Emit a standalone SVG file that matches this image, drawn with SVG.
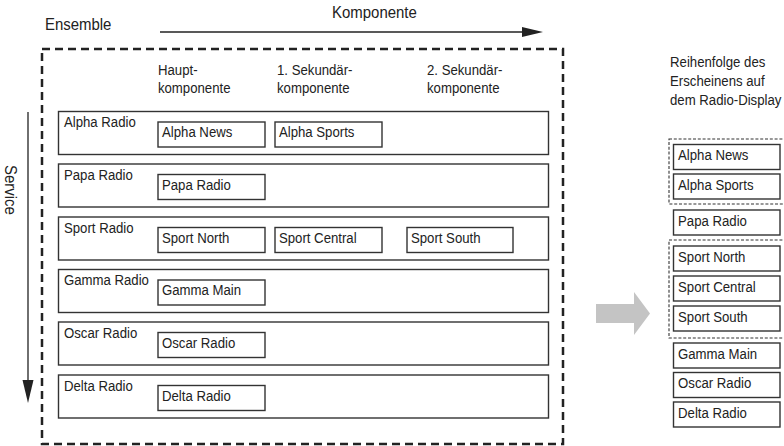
<svg xmlns="http://www.w3.org/2000/svg" width="784" height="446" viewBox="0 0 784 446">
<style>
text { font-family: "Liberation Sans", Arial, sans-serif; fill: #222; }
.big { font-size: 17px; }
.sm { font-size: 15px; }
.row { fill: #fff; stroke: #333; stroke-width: 1.4; }
.box { fill: #fff; stroke: #333; stroke-width: 1.4; }
.ens { fill: none; stroke: #222; stroke-width: 2.5; stroke-dasharray: 8 5; }
.grp { fill: none; stroke: #333; stroke-width: 1.1; stroke-dasharray: 3 1.8; }
.ax { stroke: #222; stroke-width: 1.3; fill: none; }
.head { fill: #222; }
</style>
<rect width="784" height="446" fill="#fff"/>

<g id="ensemble">
  <rect class="ens" x="42" y="49" width="521" height="395"/>
  <text class="big" transform="scale(0.88,1)" x="51.1" y="30">Ensemble</text>
</g>

<g id="axes">
  <text class="big" transform="scale(0.88,1)" x="377.3" y="18">Komponente</text>
  <line class="ax" x1="160" y1="32" x2="524" y2="32"/>
  <polygon class="head" points="522,27 543,32 522,37"/>
  <text class="big" transform="translate(5,165) rotate(90) scale(0.88,1)">Service</text>
  <line class="ax" x1="28" y1="112" x2="28" y2="382"/>
  <polygon class="head" points="22.5,380 33.5,380 28,403"/>
</g>

<g id="headers">
  <text class="sm" transform="scale(0.88,1)" x="179.5" y="75">Haupt-</text>
  <text class="sm" transform="scale(0.88,1)" x="179.5" y="93">komponente</text>
  <text class="sm" transform="scale(0.88,1)" x="314.8" y="75">1. Sekundär-</text>
  <text class="sm" transform="scale(0.88,1)" x="314.8" y="93">komponente</text>
  <text class="sm" transform="scale(0.88,1)" x="485.2" y="75">2. Sekundär-</text>
  <text class="sm" transform="scale(0.88,1)" x="485.2" y="93">komponente</text>
</g>

<g id="service-alpha">
  <rect class="row" x="58.5" y="111.5" width="490" height="43"/>
  <text class="sm" transform="scale(0.88,1)" x="72.7" y="127.5">Alpha Radio</text>
  <rect class="box" x="158" y="122" width="107" height="25"/>
  <text class="sm" transform="scale(0.88,1)" x="184.1" y="137.5">Alpha News</text>
  <rect class="box" x="275" y="122" width="107" height="25"/>
  <text class="sm" transform="scale(0.88,1)" x="317" y="137.5">Alpha Sports</text>
</g>

<g id="service-papa">
  <rect class="row" x="58.5" y="164" width="490" height="43"/>
  <text class="sm" transform="scale(0.88,1)" x="72.7" y="180">Papa Radio</text>
  <rect class="box" x="158" y="174.5" width="107" height="25"/>
  <text class="sm" transform="scale(0.88,1)" x="184.1" y="190">Papa Radio</text>
</g>

<g id="service-sport">
  <rect class="row" x="58.5" y="217" width="490" height="43"/>
  <text class="sm" transform="scale(0.88,1)" x="72.7" y="233">Sport Radio</text>
  <rect class="box" x="158" y="227.5" width="107" height="25"/>
  <text class="sm" transform="scale(0.88,1)" x="184.1" y="243">Sport North</text>
  <rect class="box" x="275" y="227.5" width="107" height="25"/>
  <text class="sm" transform="scale(0.88,1)" x="317" y="243">Sport Central</text>
  <rect class="box" x="407" y="227.5" width="106" height="25"/>
  <text class="sm" transform="scale(0.88,1)" x="467" y="243">Sport South</text>
</g>

<g id="service-gamma">
  <rect class="row" x="58.5" y="269.5" width="490" height="43"/>
  <text class="sm" transform="scale(0.88,1)" x="72.7" y="285.5">Gamma Radio</text>
  <rect class="box" x="158" y="280" width="107" height="25"/>
  <text class="sm" transform="scale(0.88,1)" x="184.1" y="295.5">Gamma Main</text>
</g>

<g id="service-oscar">
  <rect class="row" x="58.5" y="322" width="490" height="43"/>
  <text class="sm" transform="scale(0.88,1)" x="72.7" y="338">Oscar Radio</text>
  <rect class="box" x="158" y="332.5" width="107" height="25"/>
  <text class="sm" transform="scale(0.88,1)" x="184.1" y="348">Oscar Radio</text>
</g>

<g id="service-delta">
  <rect class="row" x="58.5" y="375" width="490" height="43"/>
  <text class="sm" transform="scale(0.88,1)" x="72.7" y="391">Delta Radio</text>
  <rect class="box" x="158" y="385.5" width="107" height="25"/>
  <text class="sm" transform="scale(0.88,1)" x="184.1" y="401">Delta Radio</text>
</g>

<g id="transition-arrow">
  <polygon points="596,304 634,304 634,292 650,313.5 634,335 634,323 596,323" fill="#c4c4c4"/>
</g>

<g id="display-order">
  <text class="sm" transform="scale(0.88,1)" x="761.4" y="67">Reihenfolge des</text>
  <text class="sm" transform="scale(0.88,1)" x="761.4" y="86">Erscheinens auf</text>
  <text class="sm" transform="scale(0.88,1)" x="761.4" y="105">dem Radio-Display</text>
  <rect class="grp" x="669" y="139" width="130" height="65"/>
  <rect class="grp" x="669" y="240" width="130" height="98"/>
  <rect class="box" x="673.5" y="144.5" width="106.5" height="25"/>
  <text class="sm" transform="scale(0.88,1)" x="770.5" y="160.5">Alpha News</text>
  <rect class="box" x="673.5" y="174" width="106.5" height="25"/>
  <text class="sm" transform="scale(0.88,1)" x="770.5" y="190">Alpha Sports</text>
  <rect class="box" x="673.5" y="210" width="106.5" height="25"/>
  <text class="sm" transform="scale(0.88,1)" x="770.5" y="226">Papa Radio</text>
  <rect class="box" x="673.5" y="246" width="106.5" height="25"/>
  <text class="sm" transform="scale(0.88,1)" x="770.5" y="262">Sport North</text>
  <rect class="box" x="673.5" y="276" width="106.5" height="25"/>
  <text class="sm" transform="scale(0.88,1)" x="770.5" y="292">Sport Central</text>
  <rect class="box" x="673.5" y="306" width="106.5" height="25"/>
  <text class="sm" transform="scale(0.88,1)" x="770.5" y="322">Sport South</text>
  <rect class="box" x="673.5" y="343" width="106.5" height="25"/>
  <text class="sm" transform="scale(0.88,1)" x="770.5" y="359">Gamma Main</text>
  <rect class="box" x="673.5" y="372.5" width="106.5" height="25"/>
  <text class="sm" transform="scale(0.88,1)" x="770.5" y="388.5">Oscar Radio</text>
  <rect class="box" x="673.5" y="402" width="106.5" height="25"/>
  <text class="sm" transform="scale(0.88,1)" x="770.5" y="418">Delta Radio</text>
</g>
</svg>
